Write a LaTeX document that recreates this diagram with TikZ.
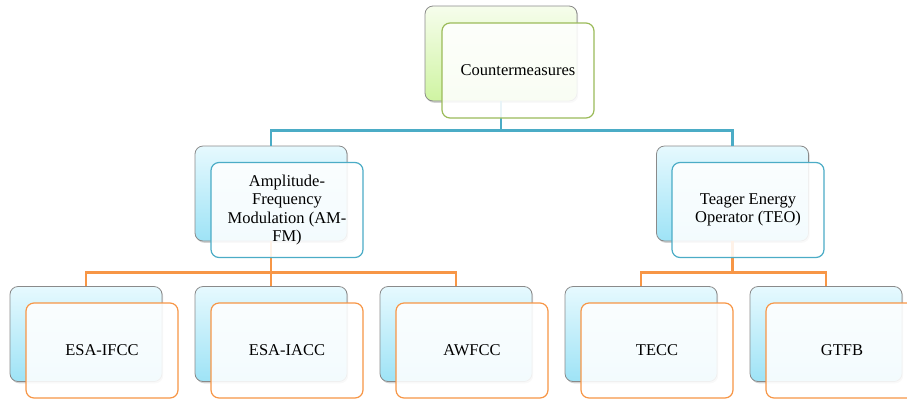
\documentclass[tikz,border=0pt]{standalone}
\usepackage{fontspec}
\setmainfont{Liberation Serif}
\usetikzlibrary{shadows}
\definecolor{accblue}{HTML}{4BACC6}
\definecolor{accorange}{HTML}{F79646}
\definecolor{accgreen}{HTML}{9BBB59}
\definecolor{backedge}{HTML}{8A8A8A}
\definecolor{greentop}{HTML}{F6FDEC}
\definecolor{greenbot}{HTML}{CFF4A2}
\definecolor{bluetop}{HTML}{E6F9FE}
\definecolor{bluebot}{HTML}{9EE3F6}
\begin{document}
\begin{tikzpicture}[x=1pt,y=-1pt,
  card/.style={rectangle, rounded corners=8pt, minimum width=152pt,
    minimum height=95pt, inner sep=0pt},
  backcard/.style={card, draw=backedge, line width=0.8pt,
    drop shadow={shadow xshift=1.2pt, shadow yshift=-1.8pt, opacity=0.35}},
  greenback/.style={backcard, top color=greentop, bottom color=greenbot},
  blueback/.style={backcard, top color=bluetop, bottom color=bluebot},
  frontcard/.style={card, line width=1.2pt, fill=white, fill opacity=0.88,
    text opacity=1, align=center, font=\fontsize{16.5}{18.5}\selectfont},
  greenfront/.style={frontcard, draw=accgreen},
  bluefront/.style={frontcard, draw=accblue},
  orangefront/.style={frontcard, draw=accorange},
  blueline/.style={draw=accblue, line width=2.6pt},
  orangeline/.style={draw=accorange, line width=2.6pt}]
\useasboundingbox (0,0) rectangle (907,400);
\clip (0,0) rectangle (907,400);

% anchor points of the back cards
\coordinate (pTop) at (501,53.5);
\coordinate (pAM)  at (271,193.5);
\coordinate (pTEO) at (732.5,193.5);
\coordinate (pL1) at (86,334);
\coordinate (pL2) at (271,334);
\coordinate (pL3) at (456,334);
\coordinate (pL4) at (641,334);
\coordinate (pL5) at (826,334);

% back cards
\node[greenback] (topB) at (pTop) {};
\node[blueback] (amB)  at (pAM) {};
\node[blueback] (teoB) at (pTEO) {};
\node[blueback] (l1B) at (pL1) {};
\node[blueback] (l2B) at (pL2) {};
\node[blueback] (l3B) at (pL3) {};
\node[blueback] (l4B) at (pL4) {};
\node[blueback] (l5B) at (pL5) {};

% connectors
\draw[blueline] (topB.south) -- ++(0,29) -| (amB.north);
\draw[blueline] (topB.south) -- ++(0,29) -| (teoB.north);
\draw[orangeline] (amB.south) -- ++(0,31) -| (l1B.north);
\draw[orangeline] (amB.south) -- ++(0,31) -| (l2B.north);
\draw[orangeline] (amB.south) -- ++(0,31) -| (l3B.north);
\draw[orangeline] (teoB.south) -- ++(0,31) -| (l4B.north);
\draw[orangeline] (teoB.south) -- ++(0,31) -| (l5B.north);

% front cards with labels
\node[greenfront] (topF) at ([shift={(17,17)}]pTop) {Countermeasures};
\node[bluefront] (amF) at ([shift={(16,16.5)}]pAM)
  {Amplitude-\\Frequency\\Modulation (AM-\\FM)};
\node[bluefront] (teoF) at ([shift={(15.5,16.5)}]pTEO)
  {Teager Energy\\Operator (TEO)};
\node[orangefront] (l1F) at ([shift={(16,16.5)}]pL1) {ESA-IFCC};
\node[orangefront] (l2F) at ([shift={(16,16.5)}]pL2) {ESA-IACC};
\node[orangefront] (l3F) at ([shift={(16,16.5)}]pL3) {AWFCC};
\node[orangefront] (l4F) at ([shift={(16,16.5)}]pL4) {TECC};
\node[orangefront] (l5F) at ([shift={(16,16.5)}]pL5) {GTFB};
\end{tikzpicture}
\end{document}
